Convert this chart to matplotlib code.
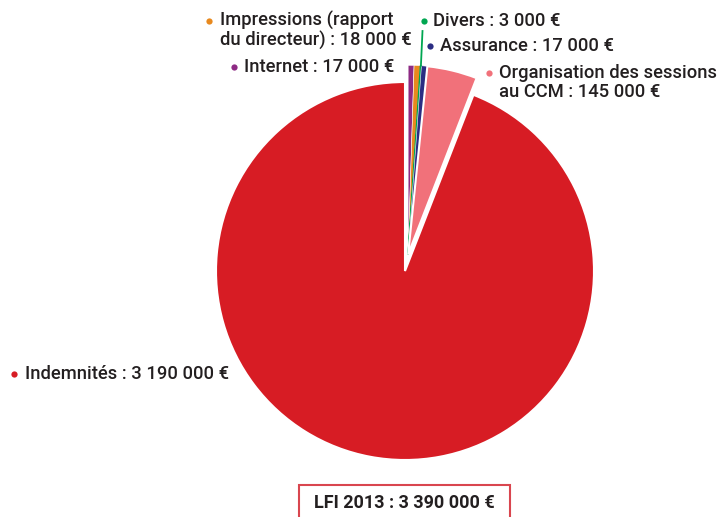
import numpy as np
import matplotlib
matplotlib.use("Agg")
import matplotlib.pyplot as plt
from matplotlib.patches import Rectangle

plt.rcParams['font.family'] = ['Roboto', 'DejaVu Sans']

categories = ["Internet", "Impressions (rapport du directeur)", "Divers", "Assurance",
              "Organisation des sessions au CCM", "Indemnités"]
values = [17000, 18000, 3000, 17000, 145000, 3190000]
colors = ["#8E2A84", "#E8891E", "#00A651", "#2B2D83", "#F1717A", "#D71C24"]
label_texts = ["Internet : 17 000 €", "Impressions (rapport\ndu directeur) : 18 000 €",
               "Divers : 3 000 €", "Assurance : 17 000 €",
               "Organisation des sessions\nau CCM : 145 000 €", "Indemnités : 3 190 000 €"]
total_label = "LFI 2013 : 3 390 000 €"

W, H = 717, 517
fig = plt.figure(figsize=(W / 100, H / 100), dpi=100)
ax = fig.add_axes([0, 0, 1, 1])

cx, cy, R = 405, H - 271, 189
total = sum(values)
small_frac = sum(values[:-1]) / total
mid = np.deg2rad(small_frac * 360 / 2)
off = 17
ocx, ocy = cx + off * np.sin(mid), cy + off * np.cos(mid)

# main pie: only the big slice visible
w1, _ = ax.pie(values, colors=colors, startangle=90, counterclock=False,
               radius=R, center=(cx, cy),
               wedgeprops=dict(edgecolor="white", linewidth=1.5))
for w in w1[:-1]:
    w.set_visible(False)

# detached group of small slices
w2, _ = ax.pie(values, colors=colors, startangle=90, counterclock=False,
               radius=R, center=(ocx, ocy),
               wedgeprops=dict(edgecolor="white", linewidth=0.4))
w2[-1].set_visible(False)
w2[2].set_edgecolor(colors[2])
w2[2].set_linewidth(1.0)
w2[4].set_linewidth(1.5)

# green leader line from Divers slice
cum = np.cumsum([0] + values)
ang = np.deg2rad((cum[2] + cum[3]) / 2 / total * 360)
gx, gy = ocx + R * np.sin(ang), ocy + R * np.cos(ang)
ax.plot([gx, 422.5], [gy, H - 31], color=colors[2], lw=1.3)

txtc = "#231F20"
fs = 13.2
# positions (bullet x, text x, first-line y) in pixel coords
pos = {
    0: (234, 244, 67),
    1: (209, 220, 21),
    2: (424, 433, 21),
    3: (430, 440, 46),
    4: (489, 499, 73),
    5: (14, 25, 374),
}
for i, (bx, tx, ty) in pos.items():
    ax.plot(bx, H - ty, 'o', color=colors[i], ms=4.5, mec='none')
    for k, ln in enumerate(label_texts[i].split('\n')):
        ax.text(tx, H - ty - k * 19, ln, fontsize=fs, color=txtc,
                fontweight='medium', ha='left', va='center')

# total box
ax.add_patch(Rectangle((298.5, -5), 211, H - 484.5 + 5, fill=False,
                       edgecolor="#D9464F", linewidth=1.5))
ax.text(404, H - 503, total_label, fontsize=13, fontweight='bold',
        color=txtc, ha='center', va='center')

ax.set_xlim(0, W)
ax.set_ylim(0, H)
ax.set_aspect('equal')
ax.axis('off')
fig.savefig("out.png", dpi=100)
